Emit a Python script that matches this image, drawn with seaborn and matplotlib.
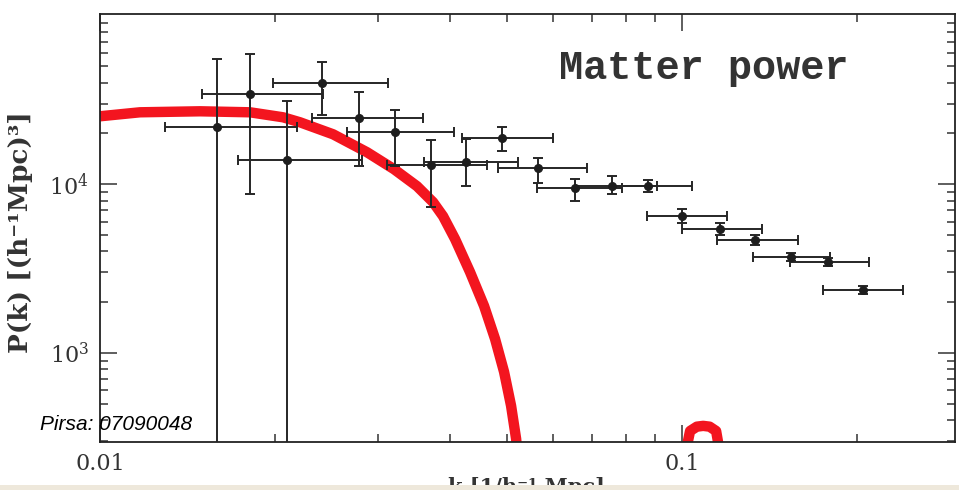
import numpy as np
import pandas as pd
import matplotlib
matplotlib.use("Agg")
import matplotlib.pyplot as plt
from matplotlib.ticker import FixedLocator, FixedFormatter, LogLocator, NullFormatter
from matplotlib.patches import Rectangle
import seaborn as sns

# Band-power measurements: centre k, band edges and P(k) with error limits
k_center = [0.01589, 0.01810, 0.02096, 0.02407, 0.02786, 0.03213, 0.03705,
            0.04254, 0.04906, 0.05655, 0.06549, 0.07580, 0.08742, 0.1000,
            0.1162, 0.1335, 0.1539, 0.1782, 0.2047]
k_low = [0.01293, 0.01497, 0.01726, 0.01983, 0.02313, 0.02657, 0.03112,
         0.03603, 0.04188, 0.04830, 0.05633, 0.06549, 0.07580, 0.08708,
         0.1000, 0.1148, 0.1324, 0.1533, 0.1747]
k_high = [0.02181, 0.02416, 0.02819, 0.03125, 0.03589, 0.04058, 0.04624,
          0.05226, 0.06001, 0.06867, 0.07886, 0.09058, 0.1040, 0.1195,
          0.1373, 0.1583, 0.1796, 0.2096, 0.2397]
power = [21740, 34080, 13870, 39590, 24580, 20310, 12950, 13490, 18720,
         12430, 9470, 9731, 9731, 6463, 5418, 4663, 3699, 3455, 2359]
power_low = [1, 8727, 1, 25600, 12780, 12780, 7310, 9731, 15680, 10140,
             7932, 8727, 8968, 5877, 4992, 4356, 3503, 3271, 2234]
power_high = [54910, 58780, 30980, 52710, 35030, 27410, 18210, 18460, 21740,
              14250, 10710, 11150, 10560, 7111, 5877, 4992, 3906, 3648, 2491]

# Model spectrum (main branch and the small lobe that re-enters near k = 0.1)
model_k = [0.01000, 0.01171, 0.01485, 0.01810, 0.02063, 0.02206, 0.02514,
           0.02876, 0.03200, 0.03504, 0.03734, 0.03884, 0.04074, 0.04322,
           0.04569, 0.04772, 0.04945, 0.05084, 0.05186, 0.05223]
model_p = [25260, 26670, 27040, 26670, 24910, 23270, 19760, 15460, 12270,
           9731, 7826, 6466, 4726, 3015, 1897, 1210, 772, 486, 310, 236]
lobe_k = [0.1013, 0.1032, 0.1060, 0.1087, 0.1115, 0.1144, 0.1162]
lobe_p = [253, 345, 366, 370, 366, 345, 253]

sns.set_theme(style="ticks")
plt.rcParams["font.family"] = ["DejaVu Serif", "DejaVu Sans"]
plt.rcParams["mathtext.fontset"] = "dejavuserif"

fig = plt.figure(figsize=(9.59, 4.90), dpi=100)
fig.patch.set_facecolor("white")
ax = fig.add_axes([0.1043, 0.0980, 0.8916, 0.8735])
ax.set_facecolor("white")
ax.set_xscale("log")
ax.set_yscale("log")

red = "#f3151f"
model = pd.DataFrame({"k": model_k, "P": model_p})
lobe = pd.DataFrame({"k": lobe_k, "P": lobe_p})
for part in (model, lobe):
    sns.lineplot(data=part, x="k", y="P", ax=ax, color=red, lw=7.5,
                 sort=False, estimator=None, zorder=2,
                 solid_joinstyle="round", solid_capstyle="butt")

kc = np.array(k_center)
pc = np.array(power)
xerr = [kc - np.array(k_low), np.array(k_high) - kc]
yerr = [pc - np.array(power_low), np.array(power_high) - pc]
ax.errorbar(kc, pc, xerr=xerr, yerr=yerr, fmt="o", color="#1e1e1e",
            ecolor="#262626", elinewidth=1.4, capsize=3.5, capthick=1.4,
            markersize=5.5, zorder=3)

ax.set_xlim(0.01, 0.2944)
ax.set_ylim(297, 1.02e5)
ax.set_xlabel("")
ax.set_ylabel("")

ax.xaxis.set_major_locator(FixedLocator([0.01, 0.1]))
ax.xaxis.set_major_formatter(FixedFormatter(["0.01", "0.1"]))
ax.xaxis.set_minor_locator(LogLocator(base=10, subs=np.arange(2, 10)))
ax.xaxis.set_minor_formatter(NullFormatter())
ax.yaxis.set_major_locator(FixedLocator([1e3, 1e4]))
ax.yaxis.set_major_formatter(FixedFormatter([r"$10^{3}$", r"$10^{4}$"]))
ax.yaxis.set_minor_locator(LogLocator(base=10, subs=np.arange(2, 10)))
ax.yaxis.set_minor_formatter(NullFormatter())

ax.tick_params(which="both", direction="in", top=True, right=True,
               color="#333333", width=1.1)
ax.tick_params(which="major", length=12, labelsize=16, labelcolor="#333333", pad=8)
ax.tick_params(which="minor", length=6)
for side in ax.spines.values():
    side.set_color("#222222")
    side.set_linewidth(1.3)

fig.text(704 / 959, 1 - 68 / 490, "Matter power", ha="center", va="center",
         fontsize=29, fontweight="bold", family="Liberation Mono",
         color="#333333")

fig.text(0.021, 1 - 232 / 490, "P(k) [(h⁻¹Mpc)³]", rotation=90,
         ha="center", va="center", fontsize=19, fontweight="bold",
         color="#333333")
fig.text(527 / 959, 1 - 477 / 490, "k [1/h⁻¹ Mpc]", ha="center", va="top",
         fontsize=15, fontweight="bold", color="#333333")

fig.text(40 / 959, 1 - 430 / 490, "Pirsa: 07090048", ha="left",
         va="baseline", fontsize=15, fontstyle="italic",
         family="Liberation Sans", color="black")

fig.patches.append(Rectangle((0, 0), 1, 5 / 490, transform=fig.transFigure,
                             facecolor="#eee8db", edgecolor="none", zorder=10))

fig.savefig("out.png", dpi=100)
